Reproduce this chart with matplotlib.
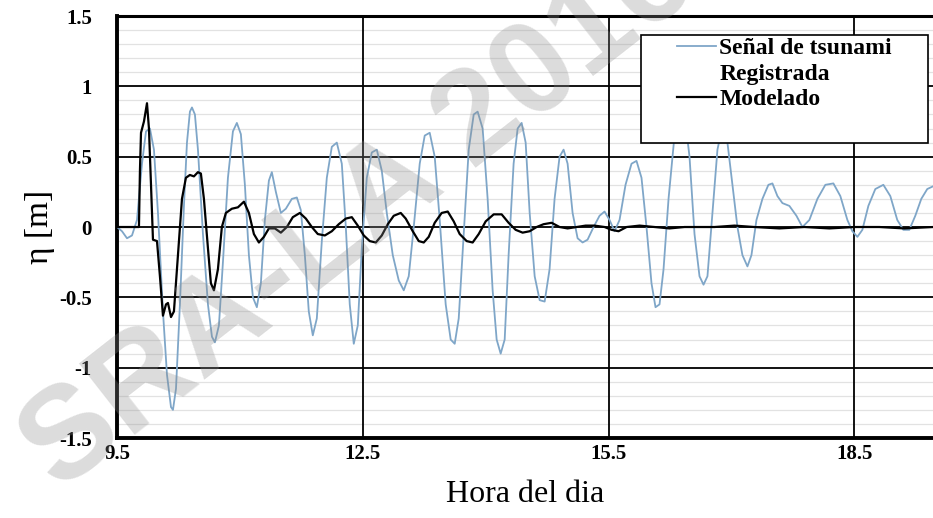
import matplotlib
matplotlib.use('Agg')
import matplotlib.pyplot as plt
from matplotlib.lines import Line2D
from matplotlib.patches import Rectangle
import numpy as np

# registered tsunami signal (hour of day, water level in m)
t_reg = [9.500, 9.561, 9.622, 9.683, 9.744, 9.805, 9.854, 9.902, 9.951, 10.000,
         10.061, 10.110, 10.159, 10.183, 10.220, 10.268, 10.317, 10.354, 10.390, 10.415,
         10.451, 10.488, 10.549, 10.610, 10.659, 10.695, 10.744, 10.793, 10.854, 10.915,
         10.963, 11.012, 11.061, 11.110, 11.159, 11.207, 11.256, 11.305, 11.354, 11.390,
         11.439, 11.500, 11.561, 11.634, 11.695, 11.744, 11.793, 11.841, 11.890, 11.939,
         12.000, 12.061, 12.122, 12.183, 12.244, 12.293, 12.341, 12.390, 12.439, 12.488,
         12.549, 12.610, 12.671, 12.732, 12.793, 12.866, 12.939, 13.000, 13.061, 13.122,
         13.195, 13.256, 13.317, 13.378, 13.439, 13.512, 13.573, 13.622, 13.671, 13.732,
         13.793, 13.854, 13.902, 13.963, 14.024, 14.085, 14.134, 14.183, 14.232, 14.280,
         14.341, 14.390, 14.439, 14.488, 14.537, 14.598, 14.659, 14.720, 14.780, 14.841,
         14.902, 14.951, 15.000, 15.061, 15.122, 15.183, 15.244, 15.317, 15.390, 15.451,
         15.512, 15.573, 15.634, 15.707, 15.780, 15.841, 15.902, 15.963, 16.024, 16.073,
         16.122, 16.171, 16.232, 16.305, 16.366, 16.427, 16.488, 16.549, 16.610, 16.659,
         16.707, 16.768, 16.829, 16.890, 16.951, 17.012, 17.073, 17.134, 17.195, 17.244,
         17.305, 17.378, 17.451, 17.500, 17.561, 17.622, 17.707, 17.793, 17.866, 17.951,
         18.049, 18.146, 18.244, 18.329, 18.415, 18.476, 18.537, 18.598, 18.671, 18.756,
         18.854, 18.939, 19.024, 19.098, 19.171, 19.244, 19.317, 19.390, 19.463]
eta_reg = [0.00, -0.03, -0.08, -0.06, 0.05, 0.45, 0.68, 0.70, 0.55, 0.10,
           -0.60, -1.05, -1.28, -1.30, -1.15, -0.55, 0.15, 0.60, 0.82, 0.85,
           0.80, 0.55, -0.05, -0.55, -0.78, -0.82, -0.70, -0.25, 0.35, 0.68,
           0.74, 0.66, 0.30, -0.20, -0.50, -0.57, -0.40, 0.05, 0.33, 0.39,
           0.25, 0.10, 0.13, 0.20, 0.21, 0.12, -0.20, -0.60, -0.77, -0.65,
           -0.10, 0.35, 0.57, 0.60, 0.45, 0.00, -0.55, -0.83, -0.70, -0.15,
           0.35, 0.53, 0.55, 0.40, 0.10, -0.20, -0.38, -0.45, -0.35, 0.00,
           0.45, 0.65, 0.67, 0.50, 0.05, -0.55, -0.80, -0.83, -0.65, -0.05,
           0.55, 0.80, 0.82, 0.70, 0.20, -0.45, -0.80, -0.90, -0.80, -0.20,
           0.45, 0.70, 0.74, 0.60, 0.10, -0.35, -0.52, -0.53, -0.30, 0.20,
           0.50, 0.55, 0.45, 0.10, -0.08, -0.11, -0.09, 0.00, 0.08, 0.11,
           0.05, -0.03, 0.05, 0.30, 0.45, 0.47, 0.35, 0.00, -0.40, -0.57,
           -0.55, -0.30, 0.20, 0.65, 0.82, 0.80, 0.50, -0.05, -0.35, -0.41,
           -0.35, 0.10, 0.55, 0.72, 0.60, 0.30, 0.00, -0.20, -0.28, -0.20,
           0.05, 0.20, 0.30, 0.31, 0.22, 0.17, 0.15, 0.08, 0.00, 0.05,
           0.20, 0.30, 0.31, 0.22, 0.05, -0.03, -0.07, -0.02, 0.15, 0.27,
           0.30, 0.22, 0.05, -0.02, -0.02, 0.08, 0.20, 0.27, 0.29]

# modelled signal
t_mod = [9.500, 9.768, 9.780, 9.793, 9.829, 9.866, 9.890, 9.915, 9.939, 9.988,
         10.024, 10.061, 10.098, 10.122, 10.159, 10.195, 10.244, 10.293, 10.341, 10.390,
         10.439, 10.488, 10.524, 10.561, 10.610, 10.646, 10.683, 10.732, 10.780, 10.829,
         10.902, 10.976, 11.049, 11.110, 11.171, 11.232, 11.293, 11.354, 11.427, 11.500,
         11.573, 11.646, 11.732, 11.805, 11.878, 11.951, 12.037, 12.122, 12.207, 12.293,
         12.366, 12.439, 12.512, 12.585, 12.659, 12.732, 12.805, 12.878, 12.963, 13.024,
         13.110, 13.183, 13.244, 13.305, 13.378, 13.463, 13.537, 13.610, 13.683, 13.768,
         13.841, 13.915, 14.000, 14.098, 14.195, 14.280, 14.366, 14.451, 14.537, 14.622,
         14.707, 14.805, 14.902, 15.000, 15.110, 15.220, 15.329, 15.451, 15.537, 15.622,
         15.720, 15.878, 16.061, 16.244, 16.427, 16.610, 16.793, 17.037, 17.280, 17.585,
         17.890, 18.195, 18.500, 18.805, 19.110, 19.463]
eta_mod = [0.00, 0.00, 0.40, 0.67, 0.75, 0.88, 0.70, 0.30, -0.09, -0.10,
           -0.35, -0.63, -0.55, -0.54, -0.64, -0.60, -0.20, 0.20, 0.35, 0.37,
           0.36, 0.39, 0.38, 0.20, -0.15, -0.40, -0.45, -0.30, 0.00, 0.10,
           0.13, 0.14, 0.18, 0.10, -0.05, -0.11, -0.07, -0.01, -0.01, -0.04,
           0.00, 0.07, 0.10, 0.06, 0.00, -0.05, -0.06, -0.03, 0.02, 0.06,
           0.07, 0.01, -0.06, -0.10, -0.11, -0.06, 0.02, 0.08, 0.10, 0.06,
           -0.03, -0.10, -0.11, -0.07, 0.03, 0.10, 0.11, 0.04, -0.05, -0.10,
           -0.11, -0.05, 0.04, 0.09, 0.09, 0.03, -0.02, -0.04, -0.03, 0.00,
           0.02, 0.03, 0.00, -0.01, 0.00, 0.01, 0.01, 0.00, -0.02, -0.03,
           0.00, 0.01, 0.00, -0.01, 0.00, 0.00, 0.00, 0.01, 0.00, -0.01,
           0.00, -0.01, 0.00, 0.00, -0.01, 0.00]

x_ticks = [9.5, 12.5, 15.5, 18.5]
x_tick_labels = ['9.5', '12.5', '15.5', '18.5']
y_ticks = [-1.5, -1, -0.5, 0, 0.5, 1, 1.5]
y_tick_labels = ['-1.5', '-1', '-0.5', '0', '0.5', '1', '1.5']

serif = 'Liberation Serif'

fig = plt.figure(figsize=(9.33, 5.18), dpi=100)
ax = fig.add_axes([0.1254, 0.1544, 0.8746, 0.8147])

ax.plot(t_reg, eta_reg, color='#7fa6c8', lw=1.3, zorder=3)
ax.plot(t_mod, eta_mod, color='black', lw=1.6, zorder=4)

ax.set_xlim(9.5, 19.46)
ax.set_ylim(-1.5, 1.5)
ax.set_xticks(x_ticks)
ax.set_xticklabels(x_tick_labels)
ax.set_yticks(y_ticks)
ax.set_yticklabels(y_tick_labels)
ax.set_yticks(np.arange(-1.5, 1.51, 0.1), minor=True)

ax.set_axisbelow(True)
ax.grid(which='minor', axis='y', color='#e2e2e2', lw=0.9)
ax.grid(which='major', color='black', lw=1.3)
# vertical lines on top of the light minor lines
ax.xaxis.set_zorder(0.6)
ax.tick_params(which='both', length=0)
ax.tick_params(axis='y', pad=18)
ax.tick_params(axis='x', pad=4)
for lab in ax.get_xticklabels() + ax.get_yticklabels():
    lab.set_fontfamily(serif)
    lab.set_fontweight('bold')
    lab.set_fontsize(15)

for side in ['left', 'bottom']:
    ax.spines[side].set_linewidth(2.8)
ax.spines['top'].set_linewidth(2.2)
ax.spines['right'].set_visible(False)

ax.set_xlabel('Hora del dia', fontfamily=serif, fontsize=23, labelpad=12)
ax.set_ylabel('η [m]', fontfamily=serif, fontsize=24, labelpad=3)

# legend frame drawn separately to keep the empty space under the entries
ax.add_patch(Rectangle((0.642, 0.699), 0.352, 0.256, transform=ax.transAxes,
                       facecolor='white', edgecolor='black', lw=1.2, zorder=5))
handles = [Line2D([], [], color='#7fa6c8', lw=1.3),
           Line2D([], [], color='none'),
           Line2D([], [], color='black', lw=1.6)]
labels = ['Señal de tsunami', 'Registrada', 'Modelado']
leg = ax.legend(handles, labels, loc='upper left', bbox_to_anchor=(0.686, 0.948),
                frameon=False, borderpad=0, borderaxespad=0, handlelength=1.65,
                handletextpad=0.15, labelspacing=0.16,
                prop={'family': serif, 'weight': 'bold', 'size': 17})
leg.set_zorder(6)

fig.text(0.385, 0.585, 'SRA-LA 2016', fontfamily='Liberation Sans', fontweight='bold',
         fontsize=94, color='0.55', alpha=0.3, rotation=38,
         ha='center', va='center', zorder=10)

fig.savefig('out.png', dpi=100)
